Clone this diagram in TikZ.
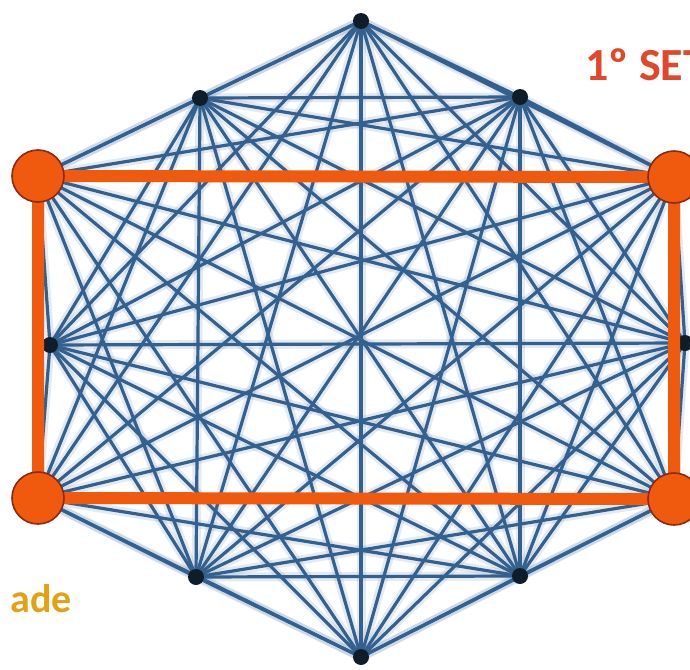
\documentclass[tikz,border=0pt]{standalone}
\usepackage{fontspec}
\setmainfont{Carlito}
\definecolor{edgeblue}{HTML}{33608C}
\definecolor{glowblue}{HTML}{7F9FC4}
\definecolor{setorange}{HTML}{F05A0F}
\definecolor{rimred}{HTML}{8A2A10}
\definecolor{titlered}{HTML}{E2472B}
\definecolor{labelgold}{HTML}{E3A214}
\begin{document}
\begin{tikzpicture}[x=0.5pt, y=-0.5pt,
    glow/.style={glowblue, line width=4.5pt, opacity=0.22},
    edge/.style={edgeblue, line width=1.6pt},
    vertexdot/.style={fill=black!70!edgeblue},
    setline/.style={setorange, line width=6pt},
    setdot/.style={fill=setorange, draw=rimred, line width=0.8pt}]
    \useasboundingbox (0,0) rectangle (690,669);
    \clip (0,0) rectangle (690,669);

    % The twelve vertices
    \coordinate (v1) at (361,21);
    \coordinate (v2) at (520,97);
    \coordinate (v3) at (674,177);
    \coordinate (v4) at (685,343);
    \coordinate (v5) at (674,499);
    \coordinate (v6) at (520,576);
    \coordinate (v7) at (361,657);
    \coordinate (v8) at (196,577);
    \coordinate (v9) at (38,498);
    \coordinate (v10) at (50,345);
    \coordinate (v11) at (38,176);
    \coordinate (v12) at (200,98);

    % Every pair of vertices is joined
    \foreach \i in {1,...,12}{
        \foreach \j in {1,...,12}{
            \ifnum\i<\j \draw[glow] (v\i) -- (v\j); \fi
        }
    }
    \foreach \i in {1,...,12}{
        \foreach \j in {1,...,12}{
            \ifnum\i<\j \draw[edge] (v\i) -- (v\j); \fi
        }
    }

    \foreach \i in {1,2,4,6,7,8,10,12}
        \fill[vertexdot] (v\i) circle (4pt);

    % Orange rectangle on four of the vertices
    \draw[setline] (v11) -- (v3) -- (v5) -- (v9) -- cycle;
    \foreach \i in {3,5,9,11}
        \filldraw[setdot] (v\i) circle (13pt);

    % Labels cut by the border
    \node[anchor=base west, inner sep=0pt, text=titlered, font=\bfseries\fontsize{23}{23}\selectfont] (title) at (585,80) {1º SET};
    \node[anchor=base east, inner sep=0pt, text=labelgold, font=\bfseries\fontsize{20}{20}\selectfont] (label) at (72,612) {ade};
\end{tikzpicture}
\end{document}
